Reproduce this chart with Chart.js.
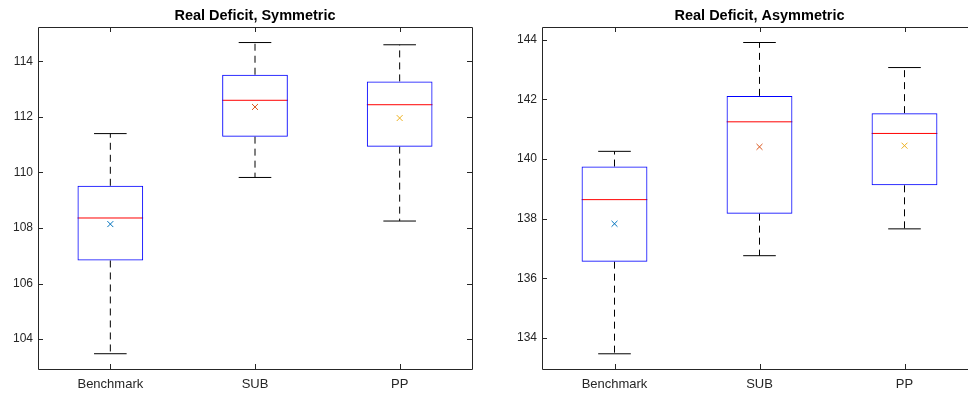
<!DOCTYPE html>
<html>
<head>
<meta charset="utf-8">
<script src="https://cdn.jsdelivr.net/npm/chart.js@4.4.1/dist/chart.umd.min.js"></script>
<style>
  html, body { margin: 0; padding: 0; background: #fff; overflow: hidden; }
  body { width: 968px; height: 397px; position: relative; }
  canvas { position: absolute; top: 0; }
  #symChart { left: 0; }
  #asymChart { left: 484px; }
</style>
</head>
<body>
<canvas id="symChart" width="484" height="397"></canvas>
<canvas id="asymChart" width="520" height="397"></canvas>
<script>
  // Categories shared by both panels
  const categories = ['Benchmark', 'SUB', 'PP'];
  const meanColors = ['#0072BD', '#D95319', '#EDB120'];

  // Real Deficit, Symmetric
  const symLowerWhisker = [103.47, 109.82, 108.25];
  const symQ1 = [106.83, 111.29, 110.93];
  const symMedian = [108.36, 112.60, 112.44];
  const symQ3 = [109.52, 113.52, 113.28];
  const symUpperWhisker = [111.40, 114.68, 114.60];
  const symMean = [108.14, 112.36, 111.96];
  const symYTicks = [104, 106, 108, 110, 112, 114];

  // Real Deficit, Asymmetric
  const asymLowerWhisker = [133.47, 136.76, 137.66];
  const asymQ1 = [136.56, 138.17, 139.12];
  const asymMedian = [138.64, 141.25, 140.86];
  const asymQ3 = [139.75, 142.12, 141.54];
  const asymUpperWhisker = [140.26, 143.91, 143.07];
  const asymMean = [137.83, 140.41, 140.45];
  const asymYTicks = [134, 136, 138, 140, 142, 144];

  const axisColor = '#262626';
  const fontFamily = '"Liberation Sans", Arial, Helvetica, sans-serif';

  // Draws the MATLAB style axes box, inward ticks and the title
  const matlabAxes = {
    id: 'matlabAxes',
    beforeDatasetsDraw(chart) {
      const ctx = chart.ctx;
      const a = chart.chartArea;
      const xs = chart.scales.x;
      const ys = chart.scales.y;
      const tick = 5;
      ctx.save();
      ctx.strokeStyle = axisColor;
      ctx.lineWidth = 1;
      ctx.beginPath();
      ctx.rect(Math.round(a.left) + 0.5, Math.round(a.top) + 0.5,
        Math.round(a.right - a.left), Math.round(a.bottom - a.top));
      xs.ticks.forEach((t, i) => {
        const x = Math.round(xs.getPixelForTick(i)) + 0.5;
        ctx.moveTo(x, a.bottom);
        ctx.lineTo(x, a.bottom - tick);
        ctx.moveTo(x, a.top);
        ctx.lineTo(x, a.top + tick);
      });
      ys.ticks.forEach(t => {
        const y = Math.round(ys.getPixelForValue(t.value)) + 0.5;
        ctx.moveTo(a.left, y);
        ctx.lineTo(a.left + tick, y);
        ctx.moveTo(a.right, y);
        ctx.lineTo(a.right - tick, y);
      });
      ctx.stroke();
      ctx.restore();
    },
    afterDraw(chart, args, opts) {
      const ctx = chart.ctx;
      const a = chart.chartArea;
      ctx.save();
      ctx.fillStyle = '#000';
      ctx.font = 'bold 14.5px ' + fontFamily;
      ctx.textAlign = 'center';
      ctx.textBaseline = 'middle';
      ctx.fillText(opts.text, (a.left + a.right) / 2, 16);
      ctx.restore();
    }
  };

  function noScalePadding(scale) {
    scale.paddingTop = 0;
    scale.paddingBottom = 0;
    scale.paddingLeft = 0;
    scale.paddingRight = 0;
  }

  function createBoxChart(canvasId, title, lower, q1, median, q3, upper, mean, yTicks, yMin, yMax, yAxisWidth, padRight) {
    const ctx = document.getElementById(canvasId).getContext('2d');

    // whisker segments, broken with nulls between boxes
    const whiskerData = [];
    categories.forEach((c, i) => {
      whiskerData.push({ x: c, y: q3[i] }, { x: c, y: upper[i] }, { x: c, y: null });
      whiskerData.push({ x: c, y: q1[i] }, { x: c, y: lower[i] }, { x: c, y: null });
    });

    new Chart(ctx, {
      type: 'bar',
      data: {
        labels: categories,
        datasets: [
          {
            label: 'box',
            data: q1.map((v, i) => [v, q3[i]]),
            backgroundColor: 'rgba(0,0,0,0)',
            borderColor: '#0000ff',
            borderWidth: 1,
            borderSkipped: false,
            barPercentage: 0.454,
            categoryPercentage: 1,
          },
          {
            type: 'line',
            label: 'whiskers',
            data: whiskerData,
            borderColor: '#000',
            borderWidth: 1,
            borderDash: [7, 5],
            pointRadius: 0,
            spanGaps: false,
          },
          {
            type: 'line',
            label: 'upper caps',
            data: upper,
            showLine: false,
            pointStyle: 'line',
            pointRadius: 16.3,
            borderColor: '#000',
            borderWidth: 1,
          },
          {
            type: 'line',
            label: 'lower caps',
            data: lower,
            showLine: false,
            pointStyle: 'line',
            pointRadius: 16.3,
            borderColor: '#000',
            borderWidth: 1,
          },
          {
            type: 'line',
            label: 'median',
            data: median,
            showLine: false,
            pointStyle: 'line',
            pointRadius: 32.8,
            borderColor: '#ff0000',
            borderWidth: 1,
          },
          {
            type: 'line',
            label: 'mean',
            data: mean,
            showLine: false,
            pointStyle: 'crossRot',
            pointRadius: 4.2,
            borderColor: meanColors,
            borderWidth: 1,
          },
        ],
      },
      options: {
        responsive: false,
        animation: false,
        events: [],
        layout: { autoPadding: false, padding: { top: 27, right: padRight, left: 0, bottom: 0 } },
        plugins: {
          legend: { display: false },
          tooltip: { enabled: false },
          matlabAxes: { text: title },
        },
        scales: {
          x: {
            type: 'category',
            offset: true,
            grid: { display: false, drawTicks: false },
            border: { display: false },
            ticks: { color: axisColor, font: { family: fontFamily, size: 13 }, padding: 8, maxRotation: 0 },
            afterFit(scale) { scale.height = 28; noScalePadding(scale); },
          },
          y: {
            type: 'linear',
            min: yMin,
            max: yMax,
            grid: { display: false, drawTicks: false },
            border: { display: false },
            ticks: { color: axisColor, font: { family: fontFamily, size: 12 }, padding: 5 },
            afterBuildTicks(scale) { scale.ticks = yTicks.map(v => ({ value: v })); },
            afterFit(scale) { scale.width = yAxisWidth; noScalePadding(scale); },
          },
        },
      },
      plugins: [matlabAxes],
    });
  }

  document.addEventListener('DOMContentLoaded', () => {
    createBoxChart('symChart', 'Real Deficit, Symmetric',
      symLowerWhisker, symQ1, symMedian, symQ3, symUpperWhisker, symMean,
      symYTicks, 102.92, 115.24, 38, 12);
    createBoxChart('asymChart', 'Real Deficit, Asymmetric',
      asymLowerWhisker, asymQ1, asymMedian, asymQ3, asymUpperWhisker, asymMean,
      asymYTicks, 132.96, 144.43, 58, 27);
  });
</script>
</body>
</html>
